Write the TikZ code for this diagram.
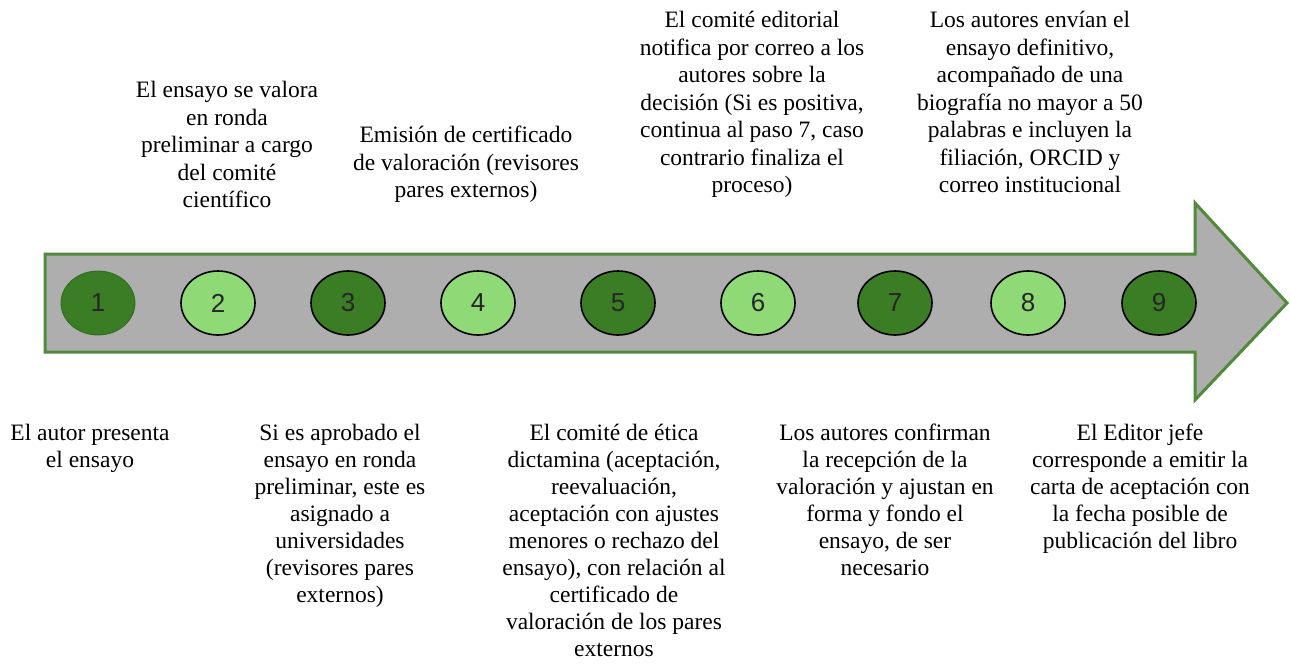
\documentclass[tikz,border=0pt]{standalone}
\usepackage{fontspec}
\setmainfont{Liberation Serif}
\newfontfamily\numfont{Liberation Sans}
\usetikzlibrary{shapes.geometric}
\definecolor{verdeoscuro}{RGB}{58,125,36}
\definecolor{verdeclaro}{RGB}{143,217,118}
\definecolor{gris}{RGB}{174,174,174}
\definecolor{borde}{RGB}{80,138,58}

\begin{document}
\begin{tikzpicture}[x=1pt,y=-1pt,
  texto/.style={align=center,inner sep=0pt,anchor=north,font=\fontsize{23.5}{27.5}\selectfont},
  textoabajo/.style={texto,font=\fontsize{23.5}{27}\selectfont},
  paso/.style={ellipse,draw=black,line width=1.6pt,minimum width=74pt,minimum height=64pt,inner sep=0pt,text=black!85,font=\numfont\fontsize{26}{26}\selectfont},
  oscuro/.style={paso,fill=verdeoscuro},
  claro/.style={paso,fill=verdeclaro}]
\useasboundingbox (0,0) rectangle (1290,664);
% flecha
\filldraw[fill=gris,draw=borde,line width=3pt] (45,254) -- (1195,254) -- (1195,203) -- (1287,303)
  -- (1195,400) -- (1195,352) -- (45,352) -- cycle;
% pasos
\node[oscuro,draw=verdeoscuro!85!black,line width=0.8pt] (p1) at (98,303) {1};
\node[claro] (p2) at (218,303) {2};
\node[oscuro] (p3) at (348,303) {3};
\node[claro] (p4) at (478,303) {4};
\node[oscuro] (p5) at (618,303) {5};
\node[claro] (p6) at (758,303) {6};
\node[oscuro] (p7) at (895,303) {7};
\node[claro] (p8) at (1028,303) {8};
\node[oscuro] (p9) at (1159,303) {9};
% textos de arriba
\node[texto] (t2) at (227,81) {El ensayo se valora\\ en ronda\\ preliminar a cargo\\ del comité\\ científico};
\node[texto] (t4) at (466,126) {Emisión de certificado\\ de valoración (revisores\\ pares externos)};
\node[texto] (t6) at (752,11) {El comité editorial\\ notifica por correo a los\\ autores sobre la\\ decisión (Si es positiva,\\ continua al paso 7, caso\\ contrario finaliza el\\ proceso)};
\node[texto] (t8) at (1030,11) {Los autores envían el\\ ensayo definitivo,\\ acompañado de una\\ biografía no mayor a 50\\ palabras e incluyen la\\ filiación, ORCID y\\ correo institucional};
% textos de abajo
\node[textoabajo] (t1) at (90,424) {El autor presenta\\ el ensayo};
\node[textoabajo] (t3) at (340,424) {Si es aprobado el\\ ensayo en ronda\\ preliminar, este es\\ asignado a\\ universidades\\ (revisores pares\\ externos)};
\node[textoabajo] (t5) at (614,424) {El comité de ética\\ dictamina (aceptación,\\ reevaluación,\\ aceptación con ajustes\\ menores o rechazo del\\ ensayo), con relación al\\ certificado de\\ valoración de los pares\\ externos};
\node[textoabajo] (t7) at (885,424) {Los autores confirman\\ la recepción de la\\ valoración y ajustan en\\ forma y fondo el\\ ensayo, de ser\\ necesario};
\node[textoabajo] (t9) at (1140,424) {El Editor jefe\\ corresponde a emitir la\\ carta de aceptación con\\ la fecha posible de\\ publicación del libro};
\end{tikzpicture}
\end{document}
